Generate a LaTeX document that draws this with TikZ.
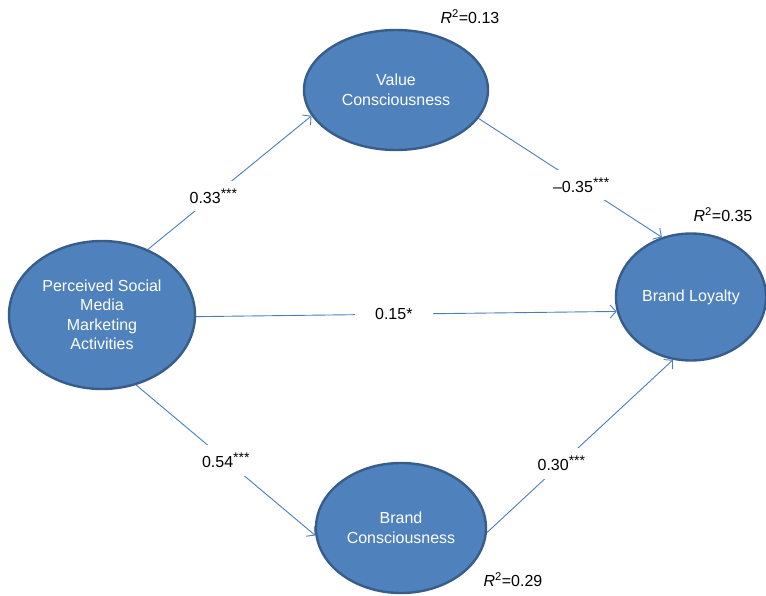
\documentclass[tikz,border=0pt]{standalone}
\usepackage{fontspec}
\setmainfont{Liberation Sans}
\usetikzlibrary{shapes.geometric,arrows.meta}
\definecolor{smfill}{RGB}{79,129,189}
\definecolor{smborder}{RGB}{56,93,138}
\definecolor{smline}{RGB}{74,126,187}
\newcommand{\sig}[1]{\raisebox{0.3em}{\fontsize{14}{14}\selectfont #1}}
\tikzset{
  construct/.style={ellipse, draw=smborder, line width=2.4pt, fill=smfill, text=white, align=center, inner sep=0pt, font=\fontsize{16}{19.5}\selectfont},
  effect/.style={-{Straight Barb[length=6pt, width=13pt]}, smline, line width=0.9pt},
  coef/.style={fill=white, text=black, inner xsep=5pt, inner ysep=8pt, font=\fontsize{16}{18}\selectfont},
  rsq/.style={font=\fontsize{16}{18}\selectfont}
}

\begin{document}
\begin{tikzpicture}[x=1pt, y=-1pt]
    \useasboundingbox (0,0) rectangle (766,596);
    \node[construct, minimum width=184pt, minimum height=120pt] (value) at (396,90) {Value\\Consciousness};
    \node[construct, minimum width=186pt, minimum height=148pt] (smma) at (102,315) {Perceived Social\\Media\\Marketing\\Activities};
    \node[construct, minimum width=150pt, minimum height=127pt] (loyalty) at (691,297) {Brand Loyalty};
    \node[construct, minimum width=170pt, minimum height=130pt] (brand) at (401,528) {Brand\\Consciousness};
    \node[rsq] (rvalue) at (470,17) {\textit{R}\textsuperscript{2}=0.13};
    \node[rsq] (rloyalty) at (723,215) {\textit{R}\textsuperscript{2}=0.35};
    \node[rsq] (rbrand) at (513,580) {\textit{R}\textsuperscript{2}=0.29};
    \draw[effect] (smma.55) -- node[coef, pos=0.4] {0.33\sig{***}} (value.197);
    \draw[effect] (value.341) -- node[coef, pos=0.56] {–0.35\sig{***}} (loyalty.116);
    \draw[effect] (smma.-1) -- node[coef, pos=0.47, inner xsep=20pt] {0.15*} (loyalty.191);
    \draw[effect] (smma.296) -- node[coef, pos=0.5] {0.54\sig{***}} (brand.185);
    \draw[effect] (brand.357) -- node[coef, pos=0.4] {0.30\sig{***}} (loyalty.254);
  \end{tikzpicture}
\end{document}
